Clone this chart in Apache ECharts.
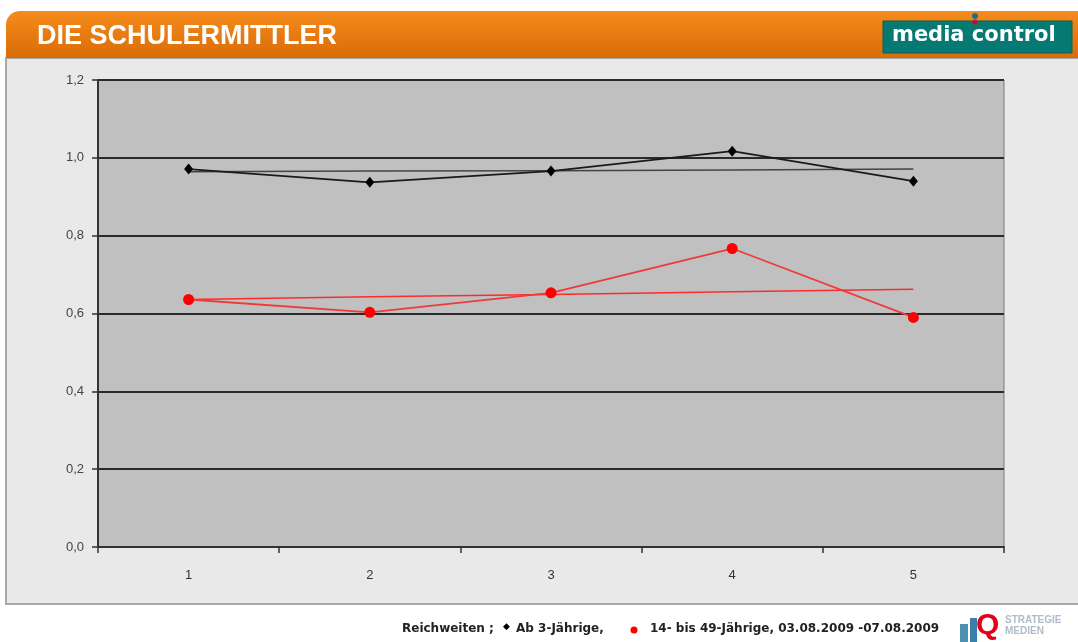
<!DOCTYPE html>
<html>
<head>
<meta charset="utf-8">
<script src="https://cdn.jsdelivr.net/npm/echarts@6/dist/echarts.min.js"></script>
<style>
html,body{margin:0;padding:0;background:#fff;}
#c{width:1078px;height:642px;}
</style>
</head>
<body>
<div id="c"></div>
<script>
var categories = ['1', '2', '3', '4', '5'];
var ab3 = [0.971, 0.937, 0.966, 1.017, 0.940];
var ab3Trend = [0.964, 0.966, 0.967, 0.969, 0.971];
var age1449 = [0.636, 0.603, 0.653, 0.767, 0.590];
var age1449Trend = [0.636, 0.643, 0.649, 0.656, 0.662];
var yTicks = [0, 0.2, 0.4, 0.6, 0.8, 1.0, 1.2];

var chart = echarts.init(document.getElementById('c'));
var legendFont = 'bold 12px "DejaVu Sans", Verdana, sans-serif';
var option = {
  backgroundColor: '#ffffff',
  animation: false,
  graphic: [
    { type: 'rect', z: -10, shape: { x: 6, y: 58, width: 1080, height: 546 },
      style: { fill: '#e9e9e9', stroke: '#a9a9a9', lineWidth: 2 } },
    { type: 'rect', z: -9, shape: { x: 6, y: 11, width: 1080, height: 47, r: [14, 0, 0, 0] },
      style: { fill: new echarts.graphic.LinearGradient(0, 0, 0, 1, [
        { offset: 0, color: '#f68b1c' }, { offset: 1, color: '#d96c07' }]) } },
    { type: 'text', left: 37, top: 23,
      style: { text: 'DIE SCHULERMITTLER', fill: '#ffffff', font: 'bold 27px "Liberation Sans", Arial, sans-serif' } },
    { type: 'rect', shape: { x: 883, y: 21, width: 189, height: 32 },
      style: { fill: '#067a72', stroke: '#0a5f58', lineWidth: 1 } },
    { type: 'text', left: 892, top: 25,
      style: { text: 'media control', fill: '#ffffff', font: 'bold 21px "DejaVu Sans", Verdana, sans-serif' } },
    { type: 'circle', shape: { cx: 975, cy: 16, r: 3 }, style: { fill: '#1f6f8a' } },
    { type: 'circle', shape: { cx: 975, cy: 22, r: 2.5 }, style: { fill: '#e3001b' } },
    { type: 'text', left: 402, top: 623,
      style: { text: 'Reichweiten ;', fill: '#222', font: legendFont } },
    { type: 'text', left: 503, top: 622,
      style: { text: '◆', fill: '#000', font: '9px "DejaVu Sans", sans-serif' } },
    { type: 'text', left: 516, top: 623,
      style: { text: 'Ab 3-Jährige,', fill: '#222', font: legendFont } },
    { type: 'circle', shape: { cx: 634, cy: 630, r: 3.5 }, style: { fill: '#ff0000' } },
    { type: 'text', left: 650, top: 623,
      style: { text: '14- bis 49-Jährige, 03.08.2009 -07.08.2009', fill: '#222', font: legendFont } },
    { type: 'rect', shape: { x: 960, y: 624, width: 8, height: 18 }, style: { fill: '#4f8fb0' } },
    { type: 'rect', shape: { x: 970, y: 618, width: 7, height: 24 }, style: { fill: '#3a7fa8' } },
    { type: 'text', left: 976, top: 611,
      style: { text: 'Q', fill: '#e3001b', font: 'bold 30px "Liberation Sans", Arial, sans-serif' } },
    { type: 'text', left: 1005, top: 615,
      style: { text: 'STRATEGIE\nMEDIEN', fill: '#b0bcc8', font: 'bold 10px "Liberation Sans", Arial, sans-serif', lineHeight: 11 } }
  ],
  grid: {
    left: 98, right: 74, top: 80, bottom: 95,
    show: true, backgroundColor: '#c0c0c0', borderColor: '#7a7a7a', borderWidth: 1
  },
  xAxis: {
    type: 'category', data: categories, boundaryGap: true,
    axisLine: { lineStyle: { color: '#333', width: 2 } },
    axisTick: { show: true, interval: 0, length: 6, lineStyle: { color: '#333', width: 1.5 } },
    axisLabel: { color: '#333', fontSize: 13, margin: 22, fontFamily: 'Liberation Sans' }
  },
  yAxis: {
    type: 'value', min: 0, max: 1.2, interval: 0.2,
    axisLine: { show: true, lineStyle: { color: '#333', width: 2 } },
    axisTick: { show: true, length: 6, lineStyle: { color: '#333', width: 1.5 } },
    axisLabel: { color: '#444', fontSize: 13, margin: 14, fontFamily: 'Liberation Sans',
      formatter: function (v) { return v.toFixed(1).replace('.', ','); } },
    splitLine: { show: true, lineStyle: { color: '#2a2a2a', width: 2 } }
  },
  series: [
    { name: 'Ab 3-Jährige Trend', type: 'line', data: ab3Trend, symbol: 'none',
      lineStyle: { color: '#444', width: 1.5 }, z: 2 },
    { name: 'Ab 3-Jährige', type: 'line', data: ab3, symbol: 'diamond', symbolSize: [9, 11],
      itemStyle: { color: '#000' }, lineStyle: { color: '#1a1a1a', width: 1.8 }, z: 3 },
    { name: '14- bis 49-Jährige Trend', type: 'line', data: age1449Trend, symbol: 'none',
      lineStyle: { color: '#ff2a2a', width: 1.5 }, z: 2 },
    { name: '14- bis 49-Jährige', type: 'line', data: age1449, symbol: 'circle', symbolSize: 11,
      itemStyle: { color: '#ff0000' }, lineStyle: { color: '#f03a3a', width: 1.8 }, z: 3 }
  ]
};
chart.setOption(option);
</script>
</body>
</html>
